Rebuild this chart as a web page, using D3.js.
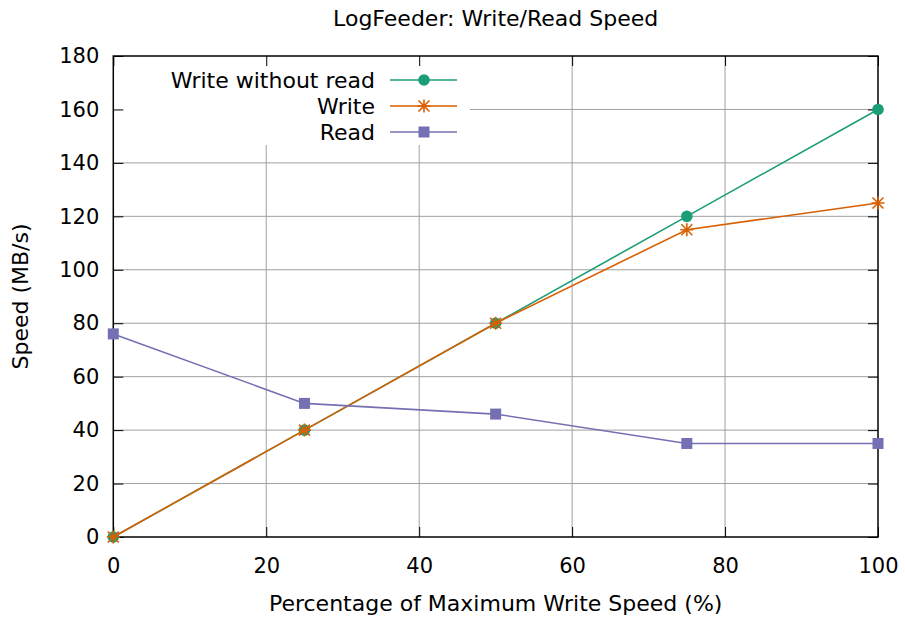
<!DOCTYPE html>
<html>
<head>
<meta charset="utf-8">
<script src="https://cdn.jsdelivr.net/npm/d3@7"></script>
<style>
  html, body { margin: 0; padding: 0; background: #fff; }
  text { font-family: "DejaVu Sans", sans-serif; fill: #000; }
</style>
</head>
<body>
<svg id="chart" width="905" height="617"></svg>
<script>
const xValues = [0, 25, 50, 75, 100];
const writeWithoutRead = [0, 40, 80, 120, 160];
const writeSpeed = [0, 40, 80, 115, 125];
const readSpeed = [76, 50, 46, 35, 35];
const xTicks = [0, 20, 40, 60, 80, 100];
const yTicks = [0, 20, 40, 60, 80, 100, 120, 140, 160, 180];
const seriesNames = ["Write without read", "Write", "Read"];
const titleText = "LogFeeder: Write/Read Speed";
const xLabelText = "Percentage of Maximum Write Speed (%)";
const yLabelText = "Speed (MB/s)";

const colors = ["#1b9e77", "#d95f02", "#7570b3"];
const markers = ["circle", "star", "square"];
const seriesData = [writeWithoutRead, writeSpeed, readSpeed];

const svg = d3.select("#chart");
const L = 113.3, R = 878, T = 56, B = 537;
const fsTick = 21;
const fsText = 22;

const x = d3.scaleLinear().domain([0, 100]).range([L, R]);
const y = d3.scaleLinear().domain([0, 180]).range([B, T]);

// grid (hidden behind the opaque key area)
const grid = svg.append("g");
const keyBox = { x0: L, x1: 470, y0: T, y1: 145 };
xTicks.slice(1, -1).forEach(t => {
  const px = x(t);
  const top = (px < keyBox.x1) ? keyBox.y1 : T;
  grid.append("line").attr("x1", px).attr("x2", px).attr("y1", top).attr("y2", B)
    .attr("stroke", "#a0a0a0").attr("stroke-width", 1);
});
yTicks.slice(1, -1).forEach(t => {
  const py = y(t);
  const left = (py < keyBox.y1) ? keyBox.x1 : L;
  grid.append("line").attr("x1", left).attr("x2", R).attr("y1", py).attr("y2", py)
    .attr("stroke", "#a0a0a0").attr("stroke-width", 1);
});

// axes via d3 (ticks inward, mirrored)
const tickLen = 10;
const axB = svg.append("g").attr("transform", `translate(0,${B})`)
  .call(d3.axisBottom(x).tickValues(xTicks).tickSizeInner(-tickLen).tickSizeOuter(0).tickPadding(21).tickFormat(d3.format("d")));
const axT = svg.append("g").attr("transform", `translate(0,${T})`)
  .call(d3.axisTop(x).tickValues(xTicks).tickSizeInner(-tickLen).tickSizeOuter(0).tickFormat(""));
const axL = svg.append("g").attr("transform", `translate(${L},0)`)
  .call(d3.axisLeft(y).tickValues(yTicks).tickSizeInner(-tickLen).tickSizeOuter(0).tickPadding(14).tickFormat(d3.format("d")));
const axR = svg.append("g").attr("transform", `translate(${R},0)`)
  .call(d3.axisRight(y).tickValues(yTicks).tickSizeInner(-tickLen).tickSizeOuter(0).tickFormat(""));
[axB, axT, axL, axR].forEach(a => {
  a.select(".domain").remove();
  a.selectAll(".tick line").attr("stroke", "#000").attr("stroke-width", 1);
  a.selectAll("text").attr("font-size", fsTick).attr("font-family", "DejaVu Sans, sans-serif").attr("fill", "#000");
});
axB.selectAll("text").attr("dy", "0.71em");

// border
svg.append("rect").attr("x", L).attr("y", T).attr("width", R - L).attr("height", B - T)
  .attr("fill", "none").attr("stroke", "#000").attr("stroke-width", 1.5);

// marker drawing
function drawMarker(g, type, cx, cy, color) {
  if (type === "circle") {
    g.append("circle").attr("cx", cx).attr("cy", cy).attr("r", 5.8).attr("fill", color);
  } else if (type === "square") {
    g.append("rect").attr("x", cx - 5.5).attr("y", cy - 5.5).attr("width", 11).attr("height", 11).attr("fill", color);
  } else {
    const s = 6.5, d = 5.5;
    const p = `M${cx - s},${cy}L${cx + s},${cy}M${cx},${cy - s}L${cx},${cy + s}` +
      `M${cx - d},${cy - d}L${cx + d},${cy + d}M${cx - d},${cy + d}L${cx + d},${cy - d}`;
    g.append("path").attr("d", p).attr("stroke", color).attr("stroke-width", 1.6).attr("fill", "none");
  }
}

const line = d3.line().x(d => x(d[0])).y(d => y(d[1]));
seriesData.forEach((vals, i) => {
  const g = svg.append("g");
  const pts = xValues.map((xv, j) => [xv, vals[j]]);
  g.append("path").datum(pts).attr("d", line).attr("fill", "none")
    .attr("stroke", colors[i]).attr("stroke-width", 1.6);
  pts.forEach(p => drawMarker(g, markers[i], x(p[0]), y(p[1]), colors[i]));
});

// legend
const legendRows = [80, 106, 132];
seriesNames.forEach((name, i) => {
  const g = svg.append("g");
  g.append("text").attr("x", 375).attr("y", legendRows[i]).attr("dy", "0.36em")
    .attr("text-anchor", "end").attr("font-size", fsText).text(name);
  g.append("line").attr("x1", 390).attr("x2", 457).attr("y1", legendRows[i]).attr("y2", legendRows[i])
    .attr("stroke", colors[i]).attr("stroke-width", 1.6);
  drawMarker(g, markers[i], 424, legendRows[i], colors[i]);
});

// title and labels
svg.append("text").attr("x", (L + R) / 2).attr("y", 26).attr("text-anchor", "middle")
  .attr("font-size", fsText).text(titleText);
svg.append("text").attr("x", (L + R) / 2).attr("y", 611).attr("text-anchor", "middle")
  .attr("font-size", fsText).text(xLabelText);
svg.append("text").attr("transform", `translate(28,${(T + B) / 2}) rotate(-90)`)
  .attr("text-anchor", "middle").attr("font-size", fsText).text(yLabelText);
</script>
</body>
</html>
